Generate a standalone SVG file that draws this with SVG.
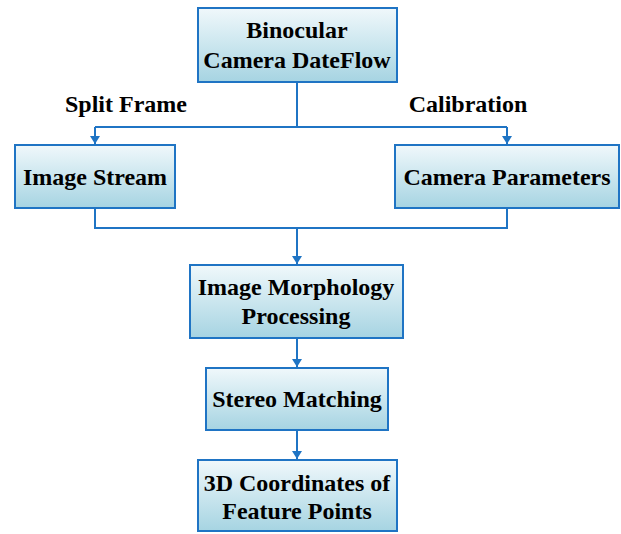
<svg xmlns="http://www.w3.org/2000/svg" width="621" height="534" viewBox="0 0 621 534">
<defs>
<linearGradient id="g" x1="0" y1="0" x2="0" y2="1">
<stop offset="0" stop-color="#f0f8fb"/>
<stop offset="1" stop-color="#a6d4e2"/>
</linearGradient>
<marker id="arr" markerWidth="10" markerHeight="10" refX="8" refY="5" orient="auto" markerUnits="userSpaceOnUse">
<path d="M0,0 L8,5 L0,10 Z" fill="#1f74c4"/>
</marker>
</defs>
<style>
.box{fill:url(#g);stroke:#1f74c4;stroke-width:2}
text{font-family:"Liberation Serif","Times New Roman","DejaVu Serif",serif;font-weight:bold;fill:#000;font-size:24px;text-anchor:middle}
.c{fill:none;stroke:#1f74c4;stroke-width:2}
</style>
<g id="connectors">
<path class="c" d="M297,82 V127 M95,127 H507"/>
<path class="c" d="M95,127 V144" marker-end="url(#arr)"/>
<path class="c" d="M507,127 V144" marker-end="url(#arr)"/>
<path class="c" d="M95,208 V228 H507 V208"/>
<path class="c" d="M297,228 V264" marker-end="url(#arr)"/>
<path class="c" d="M297,338 V367" marker-end="url(#arr)"/>
<path class="c" d="M297,430 V459" marker-end="url(#arr)"/>
</g>
<g id="label-split"><text x="126" y="112">Split Frame</text></g>
<g id="label-calib"><text x="468" y="112">Calibration</text></g>
<g id="n1">
<rect class="box" x="198" y="8" width="199" height="74"/>
<text x="297" y="38">Binocular</text>
<text x="297" y="68">Camera DateFlow</text>
</g>
<g id="n2">
<rect class="box" x="15" y="145" width="160" height="63"/>
<text x="95" y="185">Image Stream</text>
</g>
<g id="n3">
<rect class="box" x="395" y="145" width="224" height="63"/>
<text x="507" y="185">Camera Parameters</text>
</g>
<g id="n4">
<rect class="box" x="190" y="265" width="213" height="73"/>
<text x="296" y="295">Image Morphology</text>
<text x="296" y="324">Processing</text>
</g>
<g id="n5">
<rect class="box" x="206" y="368" width="182" height="62"/>
<text x="297" y="407">Stereo Matching</text>
</g>
<g id="n6">
<rect class="box" x="198" y="460" width="199" height="71"/>
<text x="297" y="491">3D Coordinates of</text>
<text x="297" y="519">Feature Points</text>
</g>
</svg>
